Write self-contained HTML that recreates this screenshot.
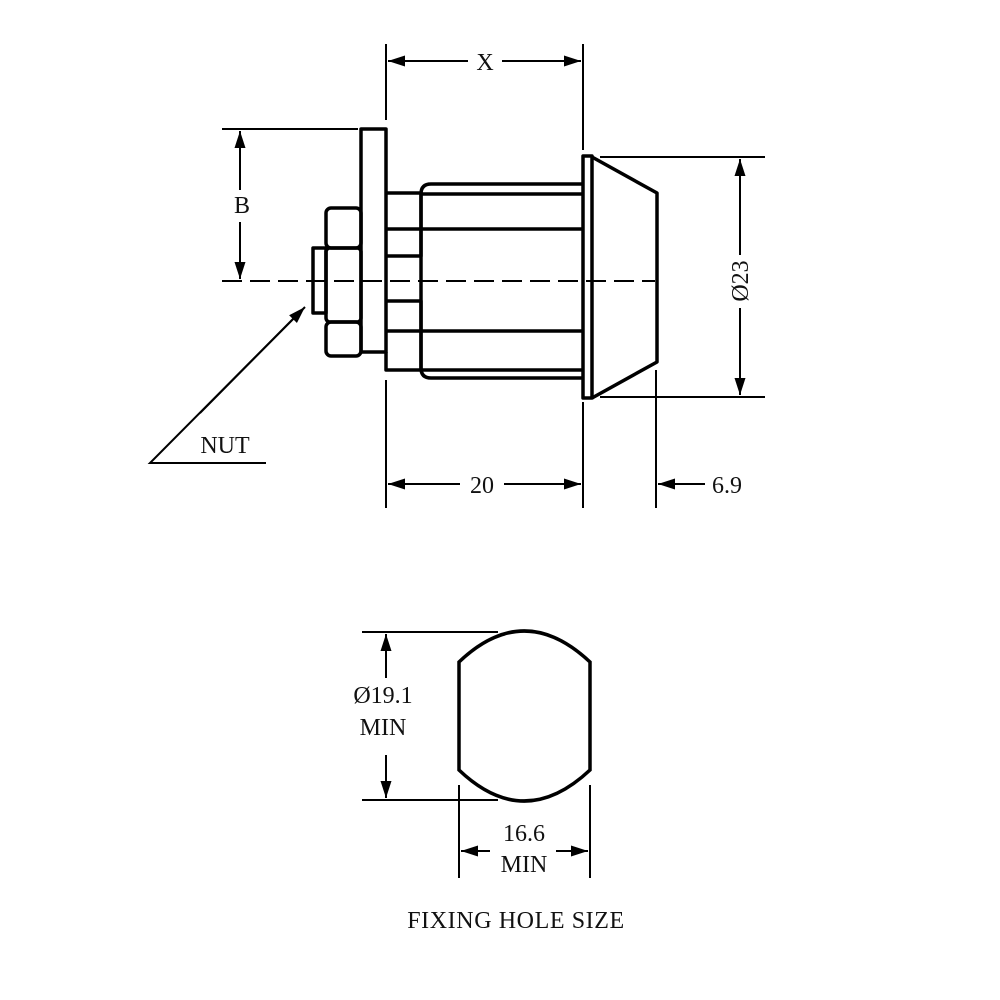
<!DOCTYPE html>
<html><head><meta charset="utf-8"><style>html,body{margin:0;padding:0;background:#fff}svg{display:block}text{font-family:"Liberation Serif",serif;fill:#111}</style></head>
<body>
<svg width="1000" height="1000" viewBox="0 0 1000 1000" xmlns="http://www.w3.org/2000/svg">
<defs>
<marker id="a" viewBox="0 0 17 11" refX="17" refY="5.5" markerWidth="17" markerHeight="11" markerUnits="userSpaceOnUse" orient="auto-start-reverse"><path d="M0,0 L17,5.5 L0,11 z" fill="#000"/></marker>
</defs>
<g fill="none" stroke="#000" stroke-width="3.5" stroke-linejoin="round">
<rect x="361" y="129" width="25" height="223"/>
<rect x="326" y="208" width="35" height="40" rx="5"/>
<rect x="326" y="248" width="35" height="74" rx="4"/>
<rect x="326" y="322" width="35" height="34" rx="5"/>
<rect x="313" y="248" width="13" height="65"/>
<polyline points="386,193 421,193 421,256 386,256"/>
<polyline points="386,301 421,301 421,370 386,370 386,352"/>
<line x1="386" y1="229" x2="583" y2="229"/>
<line x1="386" y1="331" x2="583" y2="331"/>
<path d="M583,184 L431,184 Q421,184 421,194 L421,368 Q421,378 431,378 L583,378"/>
<line x1="421" y1="194" x2="583" y2="194"/>
<line x1="421" y1="370" x2="583" y2="370"/>
<rect x="583" y="156" width="9" height="242"/>
<polyline points="592,157 657,193 657,362 592,398"/>
</g>
<g stroke="#000" stroke-width="2" fill="none">
<line x1="222" y1="281" x2="655" y2="281" stroke-dasharray="20,8"/>
<line x1="386" y1="44" x2="386" y2="120"/>
<line x1="583" y1="44" x2="583" y2="150"/>
<line x1="468" y1="61" x2="388" y2="61" marker-end="url(#a)"/>
<line x1="502" y1="61" x2="581" y2="61" marker-end="url(#a)"/>
<line x1="222" y1="129" x2="358" y2="129"/>
<line x1="240" y1="190" x2="240" y2="131" marker-end="url(#a)"/>
<line x1="240" y1="222" x2="240" y2="279" marker-end="url(#a)"/>
<line x1="600" y1="157" x2="765" y2="157"/>
<line x1="600" y1="397" x2="765" y2="397"/>
<line x1="740" y1="255" x2="740" y2="159" marker-end="url(#a)"/>
<line x1="740" y1="308" x2="740" y2="395" marker-end="url(#a)"/>
<line x1="386" y1="380" x2="386" y2="508"/>
<line x1="583" y1="402" x2="583" y2="508"/>
<line x1="656" y1="370" x2="656" y2="508"/>
<line x1="460" y1="484" x2="388" y2="484" marker-end="url(#a)"/>
<line x1="504" y1="484" x2="581" y2="484" marker-end="url(#a)"/>
<line x1="705" y1="484" x2="658" y2="484" marker-end="url(#a)"/>
<polyline points="266,463 150,463 295,317" />
<line x1="200" y1="413" x2="305" y2="307" marker-end="url(#a)"/>
<line x1="362" y1="632" x2="498" y2="632"/>
<line x1="362" y1="800" x2="498" y2="800"/>
<line x1="386" y1="678" x2="386" y2="634" marker-end="url(#a)"/>
<line x1="386" y1="755" x2="386" y2="798" marker-end="url(#a)"/>
<line x1="459" y1="785" x2="459" y2="878"/>
<line x1="590" y1="785" x2="590" y2="878"/>
<line x1="490" y1="851" x2="461" y2="851" marker-end="url(#a)"/>
<line x1="556" y1="851" x2="588" y2="851" marker-end="url(#a)"/>
</g>
<path d="M459,662 Q524,600 590,662 L590,770 Q524,832 459,770 Z" fill="none" stroke="#000" stroke-width="3.5"/>
<g font-size="24" text-anchor="middle">
<text x="485" y="70">X</text>
<text x="242" y="213">B</text>
<text x="482" y="493">20</text>
<text x="727" y="493">6.9</text>
<text x="225" y="453">NUT</text>
<text transform="translate(748,281) rotate(-90)" x="0" y="0">Ø23</text>
<text x="383" y="703">Ø19.1</text>
<text x="383" y="735">MIN</text>
<text x="524" y="841">16.6</text>
<text x="524" y="872">MIN</text>
<text x="516" y="928" font-size="24" letter-spacing="0.6">FIXING HOLE SIZE</text>
</g>
</svg>
</body></html>
